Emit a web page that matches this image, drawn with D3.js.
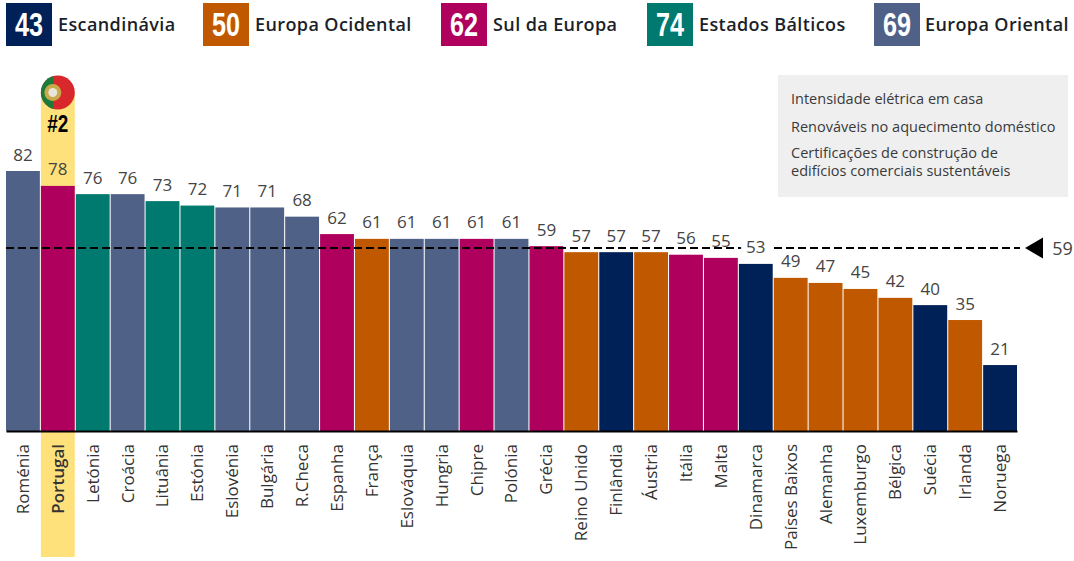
<!DOCTYPE html>
<html>
<head>
<meta charset="utf-8">
<script src="https://cdn.jsdelivr.net/npm/d3@7"></script>
<style>
html, body { margin: 0; padding: 0; background: #fff; }
svg { display: block; font-family: "Open Sans", sans-serif; }
.narrow { font-family: "Liberation Sans", sans-serif; font-weight: 700; }
.tickLabels text { font-size: 17px; fill: #333; }
.score { font-size: 17px; fill: #444; text-anchor: middle; }
.note { font-size: 14.5px; fill: #3a3a3a; }
.legendName { font-size: 18px; font-weight: 600; fill: #1b1f2a; letter-spacing: 0.4px; }
</style>
</head>
<body>
<div class="chart"></div>
<script>
const WIDTH = 1074;
const HEIGHT = 561;

const AXIS_Y = 431;
const TOP_82 = 171;
const LEFT = 6;
const RIGHT = 1017;

var regionNames = ['Escandinávia', 'Europa Ocidental', 'Sul da Europa', 'Estados Bálticos', 'Europa Oriental'];
var regionScores = [43, 50, 62, 74, 69];
var regionColors = ['#002157', '#c05800', '#b0005e', '#00796f', '#4f6187'];
var legendBoxX = [6, 203, 441, 647, 874];
var legendTextX = [58, 255, 493, 699, 925];

var countries = ['Roménia', 'Portugal', 'Letónia', 'Croácia', 'Lituânia', 'Estónia', 'Eslovénia', 'Bulgária', 'R.Checa',
    'Espanha', 'França', 'Eslováquia', 'Hungria', 'Chipre', 'Polónia', 'Grécia', 'Reino Unido', 'Finlândia', 'Áustria',
    'Itália', 'Malta', 'Dinamarca', 'Países Baixos', 'Alemanha', 'Luxemburgo', 'Bélgica', 'Suécia', 'Irlanda', 'Noruega'];
// printed scores
var scores = [82, 78, 76, 76, 73, 72, 71, 71, 68, 62, 61, 61, 61, 61, 61, 59, 57, 57, 57, 56, 55, 53, 49, 47, 45, 42, 40, 35, 21];
// bar lengths as drawn in the picture, they do not follow the printed scores exactly
var barValues = [82, 77.3, 74.7, 74.7, 72.5, 71.1, 70.5, 70.5, 67.6, 62.1, 60.6, 60.6, 60.6, 60.6, 60.6, 58.3, 56.4, 56.4, 56.4, 55.6, 54.6, 52.7, 48.3, 46.7, 44.8, 42, 39.7, 35, 20.8];
// index into regionNames
var countryRegion = [4, 2, 3, 4, 3, 3, 4, 4, 4, 2, 1, 4, 4, 2, 4, 2, 1, 0, 1, 2, 2, 0, 1, 1, 1, 1, 0, 1, 0];

var average = 59;
var averageDrawn = 57.7;
var noteLines = ['Intensidade elétrica em casa', 'Renováveis no aquecimento doméstico', 'Certificações de construção de', 'edifícios comerciais sustentáveis'];
var noteLineY = [104, 132, 158, 176];

var _svg = d3.select('.chart').append('svg')
    .attr('width', WIDTH)
    .attr('height', HEIGHT);

var _xScale = d3.scaleBand()
    .domain(countries)
    .range([LEFT, RIGHT])
    .paddingInner(0.03);

var _yScale = d3.scaleLinear()
    .domain([0, 82])
    .range([AXIS_Y, TOP_82]);

var translate = function (x, y) {
    return "translate(" + x + "," + y + ")";
};

var generateLegend = function () {
    var g = _svg.append('g').attr('class', 'legend');
    regionNames.forEach(function (name, i) {
        g.append('rect')
            .attr('x', legendBoxX[i]).attr('y', 3)
            .attr('width', 46).attr('height', 43)
            .attr('fill', regionColors[i]);
        g.append('text')
            .attr('class', 'narrow')
            .attr('x', legendBoxX[i] + 23).attr('y', 36)
            .attr('text-anchor', 'middle')
            .attr('font-size', 33)
            .attr('textLength', 28)
            .attr('lengthAdjust', 'spacingAndGlyphs')
            .attr('fill', '#fff')
            .text(regionScores[i]);
        g.append('text')
            .attr('class', 'legendName')
            .attr('x', legendTextX[i]).attr('y', 31)
            .text(name);
    });
};

var generateHighlight = function () {
    var x = _xScale('Portugal');
    var w = _xScale.bandwidth();
    var cx = x + w / 2;
    var r = 17, cy = 92.5;
    _svg.append('rect')
        .attr('x', x).attr('y', cy)
        .attr('width', w).attr('height', 557 - cy)
        .attr('fill', '#ffe17c');

    // flag
    var flag = _svg.append('g');
    _svg.append('clipPath').attr('id', 'flagClip')
        .append('circle').attr('cx', cx).attr('cy', cy).attr('r', r);
    flag.append('circle').attr('cx', cx).attr('cy', cy).attr('r', r).attr('fill', '#d8282b');
    flag.append('rect')
        .attr('x', cx - r).attr('y', cy - r)
        .attr('width', r * 0.72).attr('height', 2 * r)
        .attr('clip-path', 'url(#flagClip)')
        .attr('fill', '#1c7a3a');
    flag.append('circle').attr('cx', cx - 5).attr('cy', cy).attr('r', 8.5).attr('fill', '#c9a94a');
    flag.append('circle').attr('cx', cx - 5).attr('cy', cy).attr('r', 4.5).attr('fill', '#e9e4d8');

    _svg.append('text')
        .attr('class', 'narrow')
        .attr('x', cx).attr('y', 132)
        .attr('text-anchor', 'middle')
        .attr('font-size', 23.5)
        .attr('textLength', 21)
        .attr('lengthAdjust', 'spacingAndGlyphs')
        .attr('fill', '#000')
        .text('#2');
};

var generateBars = function () {
    _svg.append('g').selectAll('rect').data(countries)
        .enter().append('rect')
        .attr('x', function (d) { return _xScale(d); })
        .attr('y', function (d, i) { return _yScale(barValues[i]); })
        .attr('width', _xScale.bandwidth())
        .attr('height', function (d, i) { return AXIS_Y - _yScale(barValues[i]); })
        .attr('fill', function (d, i) { return regionColors[countryRegion[i]]; });
};

var generateScores = function () {
    // Dinamarca label sits on the dashed line, it has a white halo in the picture
    _svg.append('g').selectAll('text').data(countries)
        .enter().append('text')
        .attr('class', 'score')
        .attr('x', function (d) { return _xScale(d) + _xScale.bandwidth() / 2; })
        .attr('y', function (d, i) { return _yScale(barValues[i]) - 10.5; })
        .attr('stroke', function (d) { return d === 'Dinamarca' ? '#fff' : 'none'; })
        .attr('stroke-width', 12)
        .attr('paint-order', 'stroke')
        .text(function (d, i) { return scores[i]; });
};

var generateAxis = function () {
    var x = d3.axisBottom(_xScale).tickSize(0).tickPadding(0);
    var g = _svg.append('g')
        .attr('class', 'tickLabels')
        .attr('transform', translate(0, AXIS_Y))
        .call(x)
        .attr('font-family', null)
        .attr('font-size', null);
    g.select('.domain').attr('stroke', '#000').attr('stroke-width', 2.2);
    g.selectAll('.tick text')
        .attr('transform', 'rotate(-90)')
        .attr('x', -13)
        .attr('y', 0)
        .attr('dy', '0.35em')
        .attr('text-anchor', 'end')
        .style('font-weight', function (d) { return d === 'Portugal' ? 600 : 400; });
};

var generateAverage = function () {
    var y = _yScale(averageDrawn);
    _svg.append('line')
        .attr('x1', LEFT).attr('x2', 1020)
        .attr('y1', y).attr('y2', y)
        .attr('stroke', '#000')
        .attr('stroke-width', 2)
        .attr('stroke-dasharray', '8 4');
    _svg.append('path')
        .attr('d', 'M1025,' + y + 'L1043,' + (y - 10.5) + 'L1043,' + (y + 10.5) + 'Z')
        .attr('fill', '#000');
    _svg.append('text')
        .attr('class', 'score')
        .attr('x', 1062.5).attr('y', y + 7)
        .style('font-size', '18px')
        .text(average);
};

var generateNote = function () {
    _svg.append('rect')
        .attr('x', 778).attr('y', 75)
        .attr('width', 290).attr('height', 122)
        .attr('fill', '#efefef');
    _svg.append('g').selectAll('text').data(noteLines)
        .enter().append('text')
        .attr('class', 'note')
        .attr('x', 791)
        .attr('y', function (d, i) { return noteLineY[i]; })
        .text(function (d) { return d; });
};

generateHighlight();
generateLegend();
generateBars();
generateAverage();
generateScores();
generateAxis();
generateNote();
</script>
</body>
</html>
